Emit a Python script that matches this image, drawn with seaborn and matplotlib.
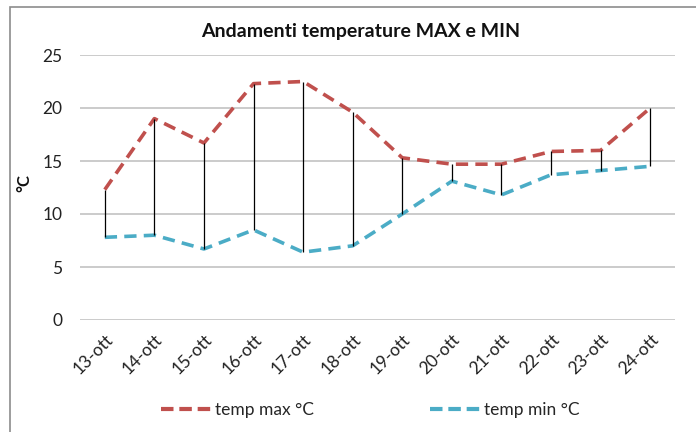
import matplotlib
matplotlib.use("Agg")
import matplotlib.pyplot as plt
import seaborn as sns
import pandas as pd
from matplotlib.patches import Rectangle

days = ["13-ott", "14-ott", "15-ott", "16-ott", "17-ott", "18-ott",
        "19-ott", "20-ott", "21-ott", "22-ott", "23-ott", "24-ott"]
temp_max = [12.3, 19.0, 16.7, 22.3, 22.5, 19.6, 15.3, 14.7, 14.7, 15.9, 16.0, 20.0]
temp_min = [7.8, 8.0, 6.7, 8.5, 6.4, 7.0, 10.0, 13.1, 11.8, 13.7, 14.1, 14.5]
y_ticks = [0, 5, 10, 15, 20, 25]

sns.set_theme(style="white")
plt.rcParams["font.family"] = ["Lato", "DejaVu Sans"]

df = pd.DataFrame({"giorno": days, "max": temp_max, "min": temp_min})

fig = plt.figure(figsize=(6.96, 4.32), dpi=100)
ax = fig.add_axes([80 / 696, 112 / 432, 595 / 696, 265 / 432])

# outer chart frame
fig.patches.append(Rectangle((10 / 696, -0.1), 1.2, (432 - 7) / 432 + 0.1,
                             transform=fig.transFigure, fill=False,
                             edgecolor="#8c8c8c", linewidth=1.2, zorder=0))

for y in y_ticks:
    ax.axhline(y, color="#bdbdbd", linewidth=1.1, zorder=0)

red = "#c0504d"
blue = "#4bacc6"
sns.lineplot(data=df, x="giorno", y="max", ax=ax, color=red, linewidth=2.6,
             dashes=False, label="temp max °C", sort=False)
sns.lineplot(data=df, x="giorno", y="min", ax=ax, color=blue, linewidth=2.6,
             dashes=False, label="temp min °C", sort=False)
for line in ax.get_lines()[-2:]:
    line.set_dashes((3.4, 2.0))
    line.set_dash_capstyle("butt")

# high-low drop lines
ax.vlines(range(len(days)), temp_min, temp_max, color="black", linewidth=0.9, zorder=3)

ax.set_xlim(-0.5, len(days) - 0.5)
ax.set_ylim(0, 25)
ax.set_yticks(y_ticks)
ax.set_yticklabels([str(t) for t in y_ticks], fontsize=12.5, color="#222222")
ax.set_xticks(range(len(days)))
ax.set_xticklabels(days, rotation=45, ha="right", rotation_mode="anchor",
                   fontsize=12.5, color="#222222")
ax.tick_params(axis="both", length=0)
ax.tick_params(axis="y", pad=12.5)
ax.tick_params(axis="x", pad=8)
for s in ax.spines.values():
    s.set_visible(False)
ax.set_xlabel("")
ax.set_ylabel("")
fig.text(24 / 696, 1 - 183 / 432, "°C", rotation=90, ha="center", va="center",
         fontsize=12, fontweight="bold", color="#111111")

fig.text(361 / 696, 1 - 32 / 432, "Andamenti temperature MAX e MIN",
         ha="center", va="center", fontsize=14, fontweight="bold", color="#111111")

handles, labels = ax.get_legend_handles_labels()
ax.legend_.remove()
leg = fig.legend(handles, labels, loc="center", bbox_to_anchor=(370 / 696, 1 - 410 / 432),
                 ncol=2, frameon=False, fontsize=12.5, columnspacing=6.7,
                 handlelength=2.9, handletextpad=0.2)
for h in leg.legend_handles:
    h.set_dashes((3.0, 1.4))
    h.set_linewidth(3)

fig.savefig("out.png", dpi=100)
